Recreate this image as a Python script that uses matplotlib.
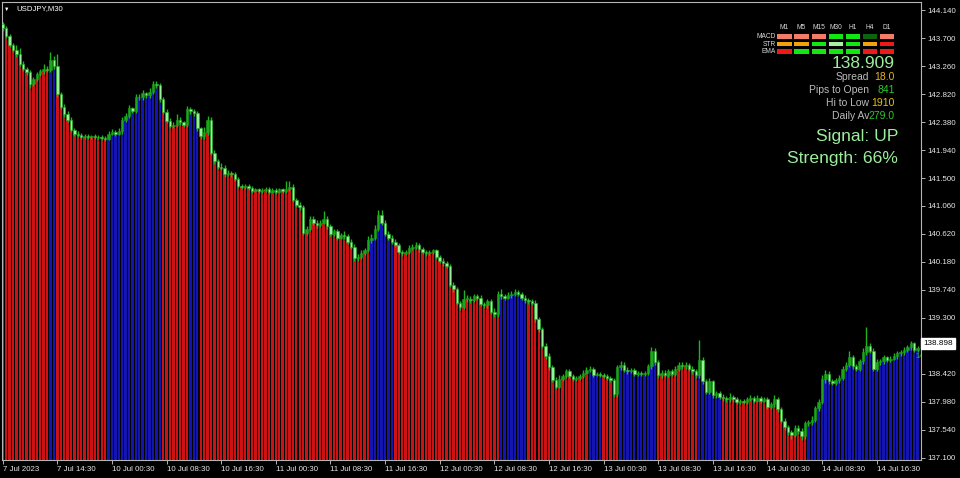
import numpy as np
import matplotlib.pyplot as plt
import matplotlib.transforms as mtransforms
from matplotlib.patches import Rectangle

plt.rcParams['font.family'] = ['Liberation Sans', 'DejaVu Sans']

# USDJPY M30 bars (open of each bar = previous close)
first_open = 143.92
closes = [
    143.86, 143.73, 143.60, 143.52, 143.45, 143.30, 143.22, 143.17, 142.98, 143.05, 143.13, 143.18, 143.22, 143.20, 143.36, 143.26,
    142.82, 142.62, 142.50, 142.42, 142.25, 142.20, 142.18, 142.15, 142.16, 142.14, 142.16, 142.15, 142.14, 142.13, 142.12, 142.20,
    142.22, 142.20, 142.24, 142.42, 142.48, 142.60, 142.56, 142.78, 142.77, 142.84, 142.80, 142.86, 142.98, 142.96, 142.74, 142.54,
    142.40, 142.32, 142.34, 142.42, 142.38, 142.34, 142.58, 142.55, 142.52, 142.28, 142.16, 142.22, 142.42, 141.90, 141.76, 141.68,
    141.66, 141.56, 141.58, 141.56, 141.48, 141.38, 141.36, 141.37, 141.34, 141.30, 141.32, 141.30, 141.31, 141.33, 141.28, 141.31,
    141.28, 141.32, 141.30, 141.32, 141.36, 141.15, 141.08, 141.04, 140.64, 140.70, 140.86, 140.80, 140.76, 140.80, 140.86, 140.74,
    140.62, 140.66, 140.56, 140.60, 140.58, 140.50, 140.42, 140.24, 140.26, 140.32, 140.36, 140.52, 140.56, 140.70, 140.92, 140.80,
    140.62, 140.56, 140.50, 140.45, 140.34, 140.32, 140.34, 140.40, 140.42, 140.44, 140.38, 140.34, 140.32, 140.34, 140.36, 140.26,
    140.20, 140.16, 140.12, 139.82, 139.75, 139.54, 139.47, 139.60, 139.60, 139.58, 139.64, 139.62, 139.52, 139.50, 139.56, 139.40,
    139.36, 139.68, 139.64, 139.62, 139.66, 139.68, 139.70, 139.68, 139.62, 139.58, 139.56, 139.54, 139.28, 139.12, 138.86, 138.70,
    138.52, 138.33, 138.22, 138.34, 138.38, 138.46, 138.38, 138.34, 138.35, 138.38, 138.44, 138.48, 138.50, 138.40, 138.42, 138.40,
    138.38, 138.36, 138.32, 138.10, 138.52, 138.56, 138.48, 138.46, 138.48, 138.42, 138.44, 138.42, 138.44, 138.54, 138.78, 138.60,
    138.40, 138.44, 138.40, 138.46, 138.42, 138.50, 138.56, 138.54, 138.56, 138.50, 138.46, 138.40, 138.64, 138.30, 138.14, 138.30,
    138.08, 138.12, 138.06, 138.04, 138.02, 138.06, 138.02, 137.98, 138.00, 137.98, 138.02, 138.04, 138.00, 138.04, 138.00, 138.03,
    137.90, 137.94, 138.02, 137.86, 137.68, 137.58, 137.50, 137.46, 137.56, 137.52, 137.44, 137.64, 137.66, 137.70, 137.88, 137.98,
    138.34, 138.42, 138.30, 138.28, 138.32, 138.36, 138.50, 138.56, 138.68, 138.54, 138.50, 138.62, 138.76, 138.86, 138.78, 138.50,
    138.60, 138.62, 138.68, 138.64, 138.66, 138.70, 138.74, 138.76, 138.80, 138.84, 138.90, 138.80, 138.82,
]
highs = [
    143.96, 143.89, 143.76, 143.63, 143.60, 143.55, 143.34, 143.25, 143.20, 143.09, 143.16, 143.22, 143.30, 143.26, 143.48, 143.42,
    143.45, 142.86, 142.66, 142.56, 142.46, 142.29, 142.24, 142.21, 142.19, 142.20, 142.18, 142.19, 142.18, 142.17, 142.16, 142.24,
    142.27, 142.26, 142.28, 142.46, 142.52, 142.65, 142.62, 142.82, 142.82, 142.88, 142.86, 142.92, 143.03, 143.02, 142.99, 142.78,
    142.58, 142.44, 142.38, 142.50, 142.46, 142.40, 142.64, 142.62, 142.58, 142.55, 142.31, 142.30, 142.48, 142.46, 141.94, 141.80,
    141.74, 141.70, 141.62, 141.61, 141.59, 141.51, 141.41, 141.40, 141.40, 141.37, 141.35, 141.35, 141.34, 141.36, 141.36, 141.34,
    141.34, 141.35, 141.35, 141.46, 141.46, 141.40, 141.19, 141.12, 141.08, 140.75, 140.90, 140.90, 140.84, 140.84, 140.98, 140.90,
    140.78, 140.70, 140.70, 140.64, 140.66, 140.62, 140.54, 140.46, 140.30, 140.36, 140.40, 140.58, 140.62, 140.76, 141.00, 141.00,
    140.84, 140.66, 140.60, 140.54, 140.48, 140.37, 140.37, 140.44, 140.46, 140.50, 140.47, 140.41, 140.37, 140.37, 140.39, 140.39,
    140.29, 140.24, 140.19, 140.15, 139.86, 139.78, 139.57, 139.74, 139.66, 139.64, 139.68, 139.67, 139.66, 139.55, 139.60, 139.60,
    139.46, 139.72, 139.76, 139.68, 139.70, 139.72, 139.75, 139.74, 139.71, 139.66, 139.62, 139.60, 139.58, 139.32, 139.16, 138.90,
    138.74, 138.56, 138.37, 138.40, 138.42, 138.50, 138.50, 138.42, 138.38, 138.42, 138.48, 138.52, 138.54, 138.53, 138.45, 138.45,
    138.43, 138.41, 138.39, 138.35, 138.56, 138.62, 138.60, 138.52, 138.51, 138.51, 138.47, 138.47, 138.47, 138.58, 138.84, 138.82,
    138.64, 138.48, 138.48, 138.50, 138.50, 138.54, 138.60, 138.60, 138.60, 138.59, 138.54, 138.49, 138.95, 138.68, 138.34, 138.36,
    138.33, 138.15, 138.15, 138.10, 138.07, 138.12, 138.09, 138.05, 138.03, 138.03, 138.06, 138.08, 138.07, 138.08, 138.07, 138.06,
    138.06, 137.98, 138.08, 138.06, 137.90, 137.72, 137.62, 137.54, 137.62, 137.62, 137.56, 137.68, 137.70, 137.75, 137.92, 138.02,
    138.40, 138.48, 138.46, 138.34, 138.36, 138.40, 138.54, 138.60, 138.78, 138.72, 138.58, 138.66, 138.82, 139.16, 138.90, 138.82,
    138.66, 138.66, 138.72, 138.70, 138.70, 138.74, 138.78, 138.80, 138.84, 138.88, 138.94, 138.92, 138.86,
]
lows = [
    143.82, 143.70, 143.56, 143.48, 143.40, 143.26, 143.18, 143.12, 142.92, 142.94, 143.02, 143.10, 143.14, 143.16, 143.17, 143.22,
    142.78, 142.58, 142.46, 142.38, 142.22, 142.16, 142.15, 142.12, 142.12, 142.11, 142.11, 142.12, 142.11, 142.10, 142.09, 142.10,
    142.17, 142.16, 142.17, 142.20, 142.38, 142.44, 142.52, 142.52, 142.73, 142.73, 142.76, 142.76, 142.82, 142.92, 142.70, 142.50,
    142.36, 142.28, 142.29, 142.30, 142.34, 142.30, 142.31, 142.50, 142.48, 142.24, 142.12, 142.12, 142.18, 141.86, 141.72, 141.64,
    141.62, 141.52, 141.53, 141.52, 141.45, 141.35, 141.33, 141.33, 141.31, 141.27, 141.28, 141.27, 141.27, 141.28, 141.25, 141.26,
    141.25, 141.26, 141.27, 141.27, 141.29, 141.12, 141.05, 141.00, 140.60, 140.60, 140.66, 140.76, 140.72, 140.73, 140.77, 140.70,
    140.58, 140.59, 140.52, 140.54, 140.54, 140.46, 140.38, 140.20, 140.20, 140.22, 140.29, 140.33, 140.48, 140.52, 140.66, 140.76,
    140.58, 140.52, 140.46, 140.41, 140.30, 140.28, 140.29, 140.31, 140.37, 140.39, 140.34, 140.30, 140.28, 140.29, 140.31, 140.22,
    140.16, 140.12, 140.08, 139.78, 139.71, 139.50, 139.43, 139.44, 139.55, 139.54, 139.55, 139.58, 139.48, 139.46, 139.46, 139.36,
    139.32, 139.32, 139.60, 139.58, 139.59, 139.62, 139.64, 139.64, 139.58, 139.54, 139.52, 139.50, 139.24, 139.08, 138.82, 138.66,
    138.48, 138.29, 138.18, 138.19, 138.30, 138.35, 138.35, 138.30, 138.31, 138.32, 138.35, 138.41, 138.45, 138.37, 138.38, 138.37,
    138.35, 138.33, 138.29, 138.06, 138.06, 138.48, 138.45, 138.42, 138.43, 138.38, 138.39, 138.38, 138.39, 138.40, 138.50, 138.56,
    138.36, 138.36, 138.37, 138.37, 138.38, 138.38, 138.47, 138.50, 138.50, 138.46, 138.42, 138.36, 138.36, 138.26, 138.10, 138.10,
    138.04, 138.04, 138.02, 138.00, 137.98, 137.98, 137.98, 137.94, 137.95, 137.94, 137.95, 137.99, 137.96, 137.97, 137.96, 137.97,
    137.86, 137.86, 137.90, 137.82, 137.64, 137.54, 137.46, 137.40, 137.42, 137.48, 137.38, 137.40, 137.60, 137.62, 137.66, 137.84,
    137.94, 138.28, 138.26, 138.24, 138.25, 138.28, 138.33, 138.46, 138.52, 138.50, 138.46, 138.47, 138.58, 138.72, 138.74, 138.46,
    138.46, 138.56, 138.58, 138.60, 138.61, 138.63, 138.66, 138.70, 138.72, 138.76, 138.80, 138.76, 138.77,
]
# trend state of the histogram: runs of (direction, number of bars)
trend_runs = [("dn", 14), ("up", 2), ("dn", 15), ("up", 16), ("dn", 8), ("up", 3),
              ("dn", 50), ("up", 7), ("dn", 31), ("up", 8), ("dn", 18), ("up", 4),
              ("dn", 5), ("up", 11), ("dn", 12), ("up", 7), ("dn", 25), ("up", 33)]

time_labels = ["7 Jul 2023", "7 Jul 14:30", "10 Jul 00:30", "10 Jul 08:30", "10 Jul 16:30",
               "11 Jul 00:30", "11 Jul 08:30", "11 Jul 16:30", "12 Jul 00:30", "12 Jul 08:30",
               "12 Jul 16:30", "13 Jul 00:30", "13 Jul 08:30", "13 Jul 16:30", "14 Jul 00:30",
               "14 Jul 08:30", "14 Jul 16:30"]
price_ticks = [144.140, 143.700, 143.260, 142.820, 142.380, 141.940, 141.500, 141.060,
               140.620, 140.180, 139.740, 139.300, 138.860, 138.420, 137.980, 137.540, 137.100]
last_price = 138.898

# dashboard values
tf_names = ["M1", "M5", "M15", "M30", "H1", "H4", "D1"]
row_names = ["MACD", "STR", "EMA"]
macd_state = ["weak_dn", "weak_dn", "weak_dn", "up", "up", "weak_up", "weak_dn"]
str_state = ["flat", "flat", "up", "strong_up", "up", "flat", "dn"]
ema_state = ["dn", "up", "up", "up", "up", "dn", "dn"]
price_now = "138.909"
info_labels = ["Spread", "Pips to Open", "Hi to Low", "Daily Av"]
info_values = ["18.0", "841", "1910", "279.0"]
signal = "UP"
strength = 66

cell_colors = {"weak_dn": "#f27c68", "dn": "#ee1a1a", "flat": "#f2a20a",
               "up": "#14e614", "strong_up": "#a6f0a0", "weak_up": "#0c640c"}
value_colors = ["#e8b41c", "#2cc82c", "#e8c010", "#2cc82c"]

opens = [first_open] + closes[:-1]
o = np.array(opens)
c = np.array(closes)
h = np.array(highs)
l = np.array(lows)
n = len(c)
x = np.arange(n)

trend = []
for d, k in trend_runs:
    trend += [d] * k
hist_colors = ['#1414b0' if t == "up" else '#cc1212' for t in trend]

fig = plt.figure(figsize=(9.6, 4.78), dpi=100, facecolor='black')
ax = fig.add_axes([2 / 960, 18 / 478, 919 / 960, 458 / 478])
ax.set_facecolor('black')

ymin, ymax = 137.064, 144.269
ax.set_ylim(ymin, ymax)
ax.set_xlim(-0.205, 268.98)

body_lo = np.minimum(o, c)
body_hi = np.maximum(o, c)
ax.bar(x, body_lo - (ymin - 1), bottom=ymin - 1, width=0.7, color=hist_colors, linewidth=0, zorder=1)

ax.vlines(x, l, h, color='#1eb41e', linewidth=1.0, zorder=2)
bull = c >= o
body_h = np.maximum(body_hi - body_lo, 0.012)
ax.bar(x[bull], body_h[bull], bottom=body_lo[bull], width=0.72, color='#1ea51e',
       edgecolor='#17a017', linewidth=0.4, zorder=3)
ax.bar(x[~bull], body_h[~bull], bottom=body_lo[~bull], width=0.72, color='#9af09a',
       edgecolor='#22b022', linewidth=0.4, zorder=3)

# axes frame and ticks
for s in ax.spines.values():
    s.set_color('#b4b4b4')
    s.set_linewidth(0.8)
ax.yaxis.tick_right()
ax.set_yticks(price_ticks)
# the tick label under the last-price box is hidden, as on the terminal
ax.set_yticklabels(["" if abs(p - last_price) < 0.1 else f"{p:.3f}" for p in price_ticks])
ax.set_xticks(np.arange(len(time_labels)) * 16)
ax.set_xticklabels(time_labels, ha='left')
ax.tick_params(axis='both', colors='#b4b4b4', labelcolor='#e6e6e6', labelsize=5.7,
               length=3, width=0.7, pad=1.5)

# last price box
tr = mtransforms.blended_transform_factory(ax.transAxes, ax.transData)
ax.text(1.0025, last_price, f"{last_price:.3f}", transform=tr, fontsize=5.9, color='black',
        va='center', ha='left', clip_on=False,
        bbox=dict(boxstyle='square,pad=0.28', fc='white', ec='white'))
ax.text(267.4, 138.70, "14", fontsize=5.5, color='#22c022', va='center', ha='left', clip_on=True)

# symbol title
fig.text(16 / 960, 1 - 9 / 478, "USDJPY,M30", color='white', fontsize=5.6, va='center', ha='left')
fig.text(7 / 960, 1 - 9.5 / 478, "\u25BC", color='white', fontsize=4, va='center', ha='center')

# dashboard, positions in pixels
W, H = 960, 478
def fx(px):
    return px / W
def fy(py):
    return 1 - py / H

col_x = [777.3 + 17.1 * i for i in range(len(tf_names))]
for cx, name in zip(col_x, tf_names):
    fig.text(fx(cx + 7), fy(27.5), name, color='#d8d8d8', fontsize=4.8, ha='center', va='center')
rows_y = [34.3, 41.7, 49.0]
for ry, rname, states in zip(rows_y, row_names, [macd_state, str_state, ema_state]):
    fig.text(fx(776), fy(ry + 2.3), rname, color='#d8d8d8', fontsize=4.8, ha='right', va='center')
    for cx, st in zip(col_x, states):
        fig.add_artist(Rectangle((fx(cx), fy(ry + 4.6)), 14.3 / W, 4.6 / H,
                                 transform=fig.transFigure, facecolor=cell_colors[st],
                                 edgecolor='none'))

fig.text(fx(895), fy(63.5), price_now, color='#9cee9c', fontsize=12.5, ha='right', va='center')
for i, (lab, val) in enumerate(zip(info_labels, info_values)):
    yy = 77.5 + 12.8 * i
    fig.text(fx(869), fy(yy), lab, color='#bcbcbc', fontsize=7.5, ha='right', va='center')
    fig.text(fx(895), fy(yy), val, color=value_colors[i], fontsize=7.5, ha='right', va='center')
fig.text(fx(898), fy(137), f"Signal: {signal}", color='#9cee9c', fontsize=12.6, ha='right', va='center')
fig.text(fx(898), fy(158.5), f"Strength: {strength}%", color='#9cee9c', fontsize=12.6, ha='right', va='center')

fig.savefig('out.png', dpi=100, facecolor='black')
